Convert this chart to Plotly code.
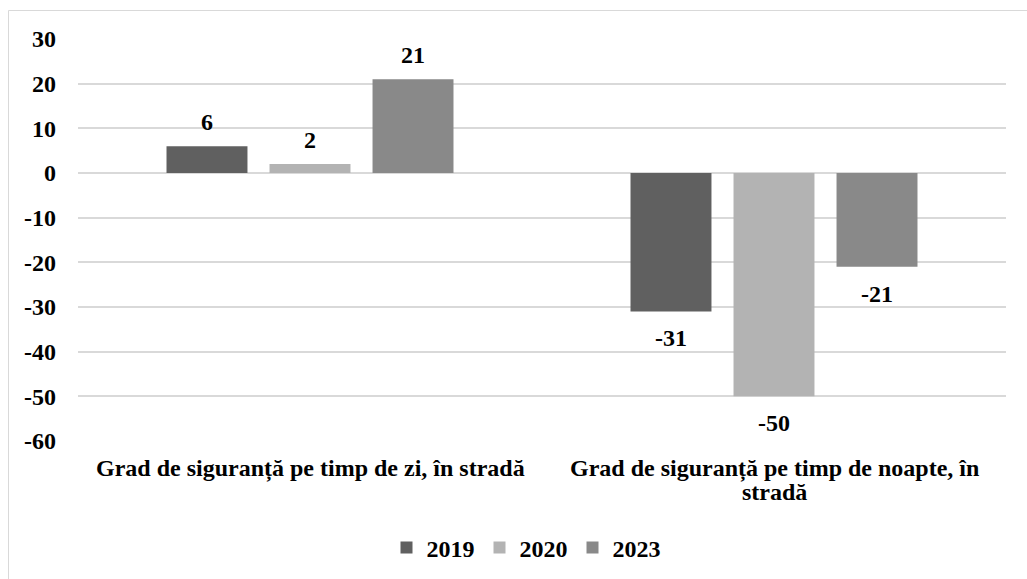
import plotly.graph_objects as go

# Data
categories = [
    "Grad de siguranță pe timp de zi, în stradă",
    "Grad de siguranță pe timp de noapte, în<br>stradă",
]
years = ["2019", "2020", "2023"]
values_2019 = [6, -31]
values_2020 = [2, -50]
values_2023 = [21, -21]
series = [values_2019, values_2020, values_2023]
colors = ["#606060", "#b3b3b3", "#898989"]
y_tick_values = [30, 20, 10, 0, -10, -20, -30, -40, -50, -60]
y_tick_labels = ["30", "20", "10", "0", "-10", "-20", "-30", "-40", "-50", "-60"]

W, H = 1027, 579
L, R, T, B = 78, 21, 39, 138
plot_w, plot_h = W - L - R, H - T - B

font = dict(family="Liberation Serif", size=24, color="#000000", weight="bold")


def px_to_paper(px, py):
    return (px - L) / plot_w, (H - B - py) / plot_h


fig = go.Figure()
for name, vals, col in zip(years, series, colors):
    fig.add_trace(go.Bar(
        x=categories, y=vals, name=name,
        marker=dict(color=col, line=dict(width=0)),
        hoverinfo="x+y+name",
    ))

# Value labels outside bar ends
slot_px = 103
for i, vals in enumerate(series):
    for cat, v in zip(categories, vals):
        fig.add_annotation(
            x=cat, y=v, text=str(v), showarrow=False,
            xshift=(i - 1) * slot_px,
            yshift=24 if v >= 0 else -27,
            font=font,
        )

# Category labels under the axis, with tight line spacing
line_px = [468, 492]
for cat in categories:
    for k, line in enumerate(cat.split("<br>")):
        fig.add_annotation(
            x=cat, xref="x", y=px_to_paper(0, line_px[k])[1], yref="paper",
            text=line, showarrow=False, yanchor="middle", font=font,
        )

# Outer chart border (left and top edges)
x0, y0 = px_to_paper(8.5, 10.5)
x1, _ = px_to_paper(W + 5, 10.5)
_, y1 = px_to_paper(8.5, H + 5)
fig.add_shape(type="line", xref="paper", yref="paper", x0=x0, y0=y0, x1=x1, y1=y0,
              line=dict(color="#d9d9d9", width=1))
fig.add_shape(type="line", xref="paper", yref="paper", x0=x0, y0=y0, x1=x0, y1=y1,
              line=dict(color="#d9d9d9", width=1))

leg_x, leg_y = px_to_paper(526, 548)

fig.update_layout(
    width=W, height=H,
    margin=dict(l=L, r=R, t=T, b=B, autoexpand=False),
    paper_bgcolor="white", plot_bgcolor="white",
    font=font,
    barmode="group",
    bargap=0.334,
    bargroupgap=0.214,
    showlegend=True,
    legend=dict(orientation="h", x=leg_x, xanchor="center", y=leg_y, yanchor="middle",
                font=font, itemwidth=30, traceorder="normal"),
    xaxis=dict(showgrid=False, showline=False, zeroline=False, ticks="",
               showticklabels=False, fixedrange=True),
    yaxis=dict(range=[-60, 30], tickmode="array", tickvals=y_tick_values,
               ticktext=y_tick_labels, showgrid=True,
               gridcolor="#d9d9d9", gridwidth=1.5, zeroline=True,
               zerolinecolor="#d9d9d9", zerolinewidth=1.5, showline=False,
               ticks="", ticklabelstandoff=21, tickfont=font, fixedrange=True),
)

fig.write_html("out.html")
